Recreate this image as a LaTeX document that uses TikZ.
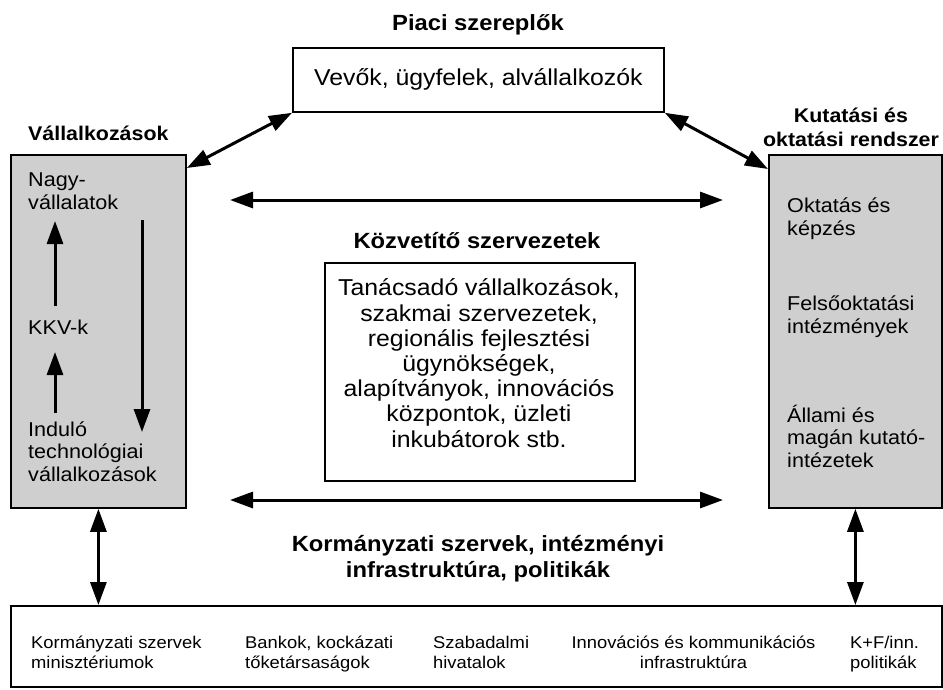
\documentclass[tikz,border=0pt]{standalone}
\usepackage{fontspec}
\setmainfont{Liberation Sans}[FakeStretch=1.08]
\usetikzlibrary{arrows.meta}

\tikzset{
  frame/.style={draw, line width=1.8pt, inner sep=0pt, anchor=north west},
  shaded/.style={frame, fill=black!19},
  link/.style={line width=3pt,
    {Triangle[length=23pt,width=16pt]}-{Triangle[length=23pt,width=16pt]}},
  flow/.style={line width=3pt, -{Triangle[length=23pt,width=16pt]}},
  head/.style={font=\bfseries\fontsize{22}{26}\selectfont, align=center, inner sep=0pt},
  sidehead/.style={font=\bfseries\fontsize{19.8}{23.5}\selectfont, align=center, inner sep=0pt},
  body/.style={font=\fontsize{20}{22.5}\selectfont, align=left, inner sep=0pt, anchor=base west},
  mid/.style={font=\fontsize{23}{25.2}\selectfont, align=center, inner sep=0pt},
  foot/.style={font=\fontsize{17}{20}\selectfont, inner sep=0pt, anchor=base west, align=left},
}

\begin{document}
\begin{tikzpicture}[x=1pt, y=-1pt]
\fill[white] (0,0) rectangle (943,689);
\useasboundingbox (0,0) rectangle (943,689);

% market actors (multi-line nodes sit on the baseline of their last line)
\node[head, anchor=base] (marketT) at (478,30) {Piaci szereplők};
\node[frame, minimum width=371pt, minimum height=64pt, font=\fontsize{23}{25}\selectfont]
  (market) at (292,47) {Vevők, ügyfelek, alvállalkozók};

% enterprises
\node[sidehead, anchor=base west] (bizT) at (28,140) {Vállalkozások};
\node[shaded, minimum width=175pt, minimum height=353pt] (biz) at (10,154) {};
\node[body] (nagy) at (28,209) {Nagy-\\vállalatok};
\node[body] (kkv) at (28,334) {KKV-k};
\node[body] (ind) at (28,481) {Induló\\technológiai\\vállalkozások};
\coordinate (u1s) at (55,306);
\coordinate (u1e) at (55,221);
\coordinate (u2s) at (55,413);
\coordinate (u2e) at (55,352);
\coordinate (ds) at (142,220);
\coordinate (de) at (142,432);
\draw[flow] (u1s) -- (u1e);
\draw[flow] (u2s) -- (u2e);
\draw[flow] (ds) -- (de);

% research and education
\node[sidehead, anchor=base] (resT) at (851,146) {Kutatási és\\oktatási rendszer};
\node[shaded, minimum width=173pt, minimum height=353pt] (res) at (768,154) {};
\node[body] (edu) at (787,235) {Oktatás és\\képzés};
\node[body] (uni) at (787,333) {Felsőoktatási\\intézmények};
\node[body] (lab) at (787,467) {Állami és\\magán kutató-\\intézetek};

% intermediaries
\node[head, anchor=base] (interT) at (477,248) {Közvetítő szervezetek};
\node[frame, minimum width=310pt, minimum height=218pt] (inter) at (324,262) {};
\node[mid, anchor=base] (interX) at (479,447) {Tanácsadó vállalkozások,\\szakmai szervezetek,\\regionális fejlesztési\\ügynökségek,\\alapítványok, innovációs\\központok, üzleti\\inkubátorok stb.};

\coordinate (tl) at (230,200);
\coordinate (tr) at (723,200);
\coordinate (bl) at (230,500);
\coordinate (br) at (723,500);
\draw[link] (tl) -- (tr);
\draw[link] (bl) -- (br);

% government
\node[head, anchor=base] (govT) at (478,577) {Kormányzati szervek, intézményi\\infrastruktúra, politikák};
\node[frame, minimum width=931pt, minimum height=81pt] (gov) at (10,605) {};
\node[foot] (g1) at (31,668) {Kormányzati szervek\\minisztériumok};
\node[foot] (g2) at (245,668) {Bankok, kockázati\\tőketársaságok};
\node[foot] (g3) at (433,668) {Szabadalmi\\hivatalok};
\node[foot, anchor=base, align=center] (g4) at (693.5,668) {Innovációs és kommunikációs\\infrastruktúra};
\node[foot] (g5) at (850,668) {K+F/inn.\\politikák};

% connections
\draw[link] (market.south west) -- ([yshift=-14pt]biz.north east);
\draw[link] (market.south east) -- ([yshift=-15pt]res.north west);
\draw[link] (biz.south) -- (biz.south |- gov.north);
\draw[link] (res.south) -- (res.south |- gov.north);
\end{tikzpicture}
\end{document}
